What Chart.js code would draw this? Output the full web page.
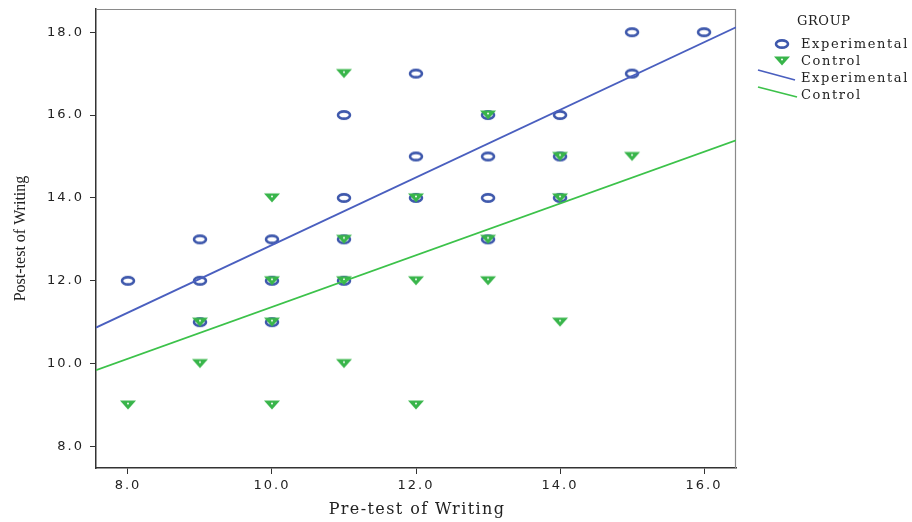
<!DOCTYPE html>
<html>
<head>
<meta charset="utf-8">
<script src="https://cdn.jsdelivr.net/npm/chart.js@4.4.1/dist/chart.umd.min.js"></script>
<style>
  html, body { margin:0; padding:0; background:#fff; }
  #wrap { position:relative; width:912px; height:522px; }
  #legend { position:absolute; left:756px; top:10px; font-family:"DejaVu Serif", serif; font-size:13px; letter-spacing:1.6px; color:#222; }
  #legend .row { position:absolute; white-space:nowrap; line-height:16px; }
  #legend svg { position:absolute; }
</style>
</head>
<body>
<div id="wrap">
  <canvas id="scatter" width="912" height="522"></canvas>
  <div id="legend">
    <div class="row" style="left:41px;top:3px;letter-spacing:0.6px">GROUP</div>
    <svg style="left:17px;top:28px" width="18" height="12"><ellipse cx="9" cy="6" rx="6" ry="3.6" fill="#fff" stroke="#3e58ac" stroke-width="2.6"/></svg>
    <div class="row" style="left:45px;top:26px">Experimental</div>
    <svg style="left:17px;top:45px" width="18" height="12"><polygon points="1,1.5 17,1.5 9,10.5" fill="#38b54a"/><circle cx="9" cy="4.5" r="1" fill="#fff"/></svg>
    <div class="row" style="left:45px;top:43px">Control</div>
    <svg style="left:0px;top:56px" width="42" height="44">
      <line x1="2" y1="4" x2="39" y2="14" stroke="#4a5fbf" stroke-width="1.8"/>
      <line x1="2" y1="21" x2="41" y2="31" stroke="#3cc24a" stroke-width="1.8"/>
    </svg>
    <div class="row" style="left:45px;top:60px">Experimental</div>
    <div class="row" style="left:45px;top:77px">Control</div>
  </div>
</div>
<script>
/* ── data ───────────────────────────────────────── */
const xTicks = [8, 10, 12, 14, 16];
const yTicks = [8, 10, 12, 14, 16, 18];

const expX = [8, 9, 9, 9, 10, 10, 10, 11, 11, 11, 11, 12, 12, 12, 13, 13, 13, 13, 14, 14, 14, 15, 15, 16];
const expY = [12, 13, 12, 11, 13, 12, 11, 16, 14, 13, 12, 17, 15, 14, 16, 15, 14, 13, 16, 15, 14, 18, 17, 18];

const ctlX = [8, 9, 9, 10, 10, 10, 10, 11, 11, 11, 11, 12, 12, 12, 13, 13, 13, 14, 14, 14, 15];
const ctlY = [9, 11, 10, 14, 12, 11, 9, 17, 13, 12, 10, 14, 12, 9, 16, 13, 12, 15, 14, 11, 15];

// fit lines, end points read at the plot edges
const lineX    = [7.556, 16.444];
const expFitY  = [10.87, 18.12];
const ctlFitY  = [9.84, 15.39];

const xTitle = "Pre-test of Writing";
const yTitle = "Post-test of Writing";

const blue  = "#3e58ac";
const green = "#38b54a";

function pts(xs, ys) { return xs.map((x, i) => ({ x, y: ys[i] })); }

// marker images (SPSS draws them a bit squashed)
function circleMark() {
  const c = document.createElement("canvas");
  c.width = 18; c.height = 12;
  const g = c.getContext("2d");
  g.strokeStyle = blue; g.fillStyle = "#fff"; g.lineWidth = 2.6;
  g.beginPath(); g.ellipse(9, 6, 6, 3.6, 0, 0, Math.PI * 2); g.fill(); g.stroke();
  return c;
}
function triangleMark() {
  const c = document.createElement("canvas");
  c.width = 18; c.height = 12;
  const g = c.getContext("2d");
  g.fillStyle = green;
  g.beginPath(); g.moveTo(1, 1.5); g.lineTo(17, 1.5); g.lineTo(9, 10.5); g.closePath(); g.fill();
  g.fillStyle = "#fff";
  g.beginPath(); g.arc(9, 4.5, 1, 0, Math.PI * 2); g.fill();
  return c;
}

// light box on top/right + spaced tick text + axis titles
const frame = {
  id: "frame",
  beforeDraw(ch) { ch.ctx.letterSpacing = "2px"; },
  beforeDatasetsDraw(ch) {
    const a = ch.chartArea, g = ch.ctx;
    g.save();
    g.strokeStyle = "#8a8a8a"; g.lineWidth = 1.2;
    g.beginPath();
    g.moveTo(a.left, a.top + 0.5); g.lineTo(a.right - 0.5, a.top + 0.5); g.lineTo(a.right - 0.5, a.bottom);
    g.stroke();
    g.restore();
  },
  afterDraw(ch) {
    const a = ch.chartArea, g = ch.ctx;
    g.save();
    g.fillStyle = "#222";
    g.textAlign = "center"; g.textBaseline = "middle";
    g.letterSpacing = "1.4px";
    g.font = "16px 'DejaVu Serif'";
    g.fillText(xTitle, (a.left + a.right) / 2 + 1, 510);
    g.letterSpacing = "0px";
    g.font = "16px 'Liberation Serif'";
    g.translate(21, (a.top + a.bottom) / 2);
    g.rotate(-Math.PI / 2);
    g.fillText(yTitle, 0, 0);
    g.restore();
    ch.ctx.letterSpacing = "0px";
  }
};

const tickFont = { family: "DejaVu Sans", size: 13 };

new Chart(document.getElementById("scatter"), {
  type: "scatter",
  data: {
    datasets: [
      { label: "Experimental", data: pts(expX, expY), pointStyle: circleMark(), order: 4 },
      { label: "Control", data: pts(ctlX, ctlY), pointStyle: triangleMark(), order: 3 },
      { type: "line", label: "Experimental fit", data: pts(lineX, expFitY), borderColor: "#4a5fbf", borderWidth: 1.8, pointRadius: 0, order: 2 },
      { type: "line", label: "Control fit", data: pts(lineX, ctlFitY), borderColor: "#3cc24a", borderWidth: 1.8, pointRadius: 0, order: 1 }
    ]
  },
  options: {
    responsive: false,
    animation: false,
    events: [],
    layout: { padding: { left: 0, top: 9, right: 176, bottom: 0 } },
    plugins: { legend: { display: false }, tooltip: { enabled: false } },
    scales: {
      x: {
        type: "linear", min: 7.556, max: 16.444,
        afterBuildTicks: s => { s.ticks = xTicks.map(v => ({ value: v })); },
        afterFit: s => { s.height = 54; s.paddingLeft = 0; s.paddingRight = 0; },
        grid: { display: true, drawOnChartArea: false, drawTicks: true, tickLength: 6, color: "#333" },
        border: { color: "#333", width: 1.5 },
        ticks: { color: "#222", font: tickFont, padding: 4, callback: v => v.toFixed(1) },
        title: { display: false }
      },
      y: {
        type: "linear", min: 7.48, max: 18.56,
        afterBuildTicks: s => { s.ticks = yTicks.map(v => ({ value: v })); },
        afterFit: s => { s.width = 96; s.paddingTop = 0; s.paddingBottom = 0; },
        grid: { display: true, drawOnChartArea: false, drawTicks: true, tickLength: 6, color: "#333" },
        border: { color: "#333", width: 1.5 },
        ticks: { color: "#222", font: tickFont, padding: 6, callback: v => v.toFixed(1) },
        title: { display: false }
      }
    }
  },
  plugins: [frame]
});
</script>
</body>
</html>
